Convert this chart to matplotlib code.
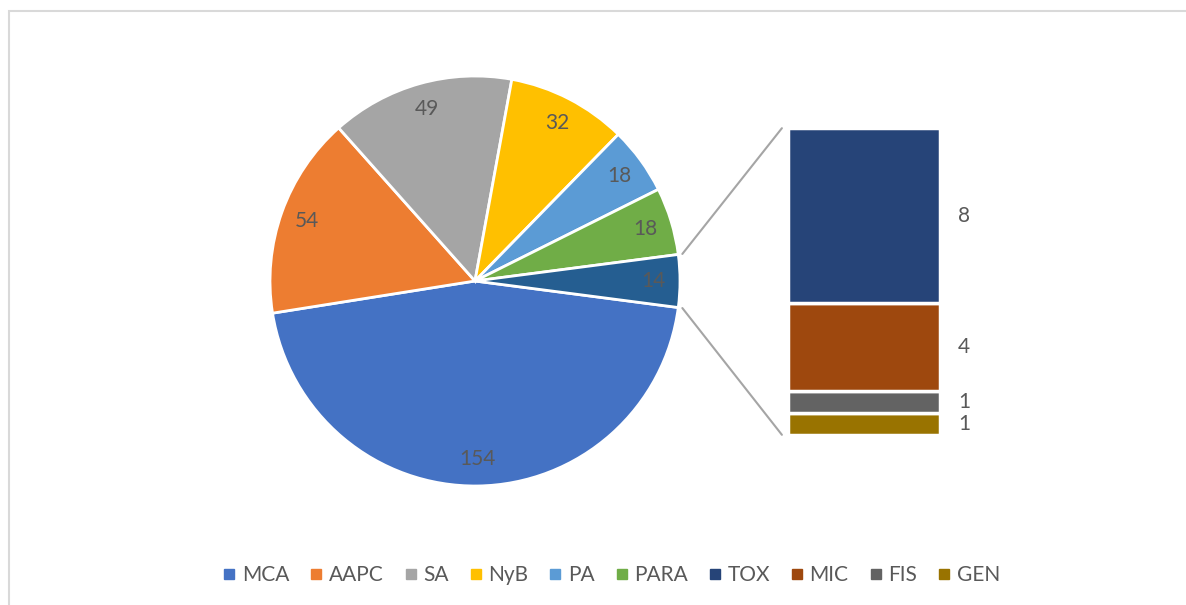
import numpy as np
import matplotlib
matplotlib.use('Agg')
import matplotlib.pyplot as plt
from matplotlib.patches import ConnectionPatch, Rectangle
from matplotlib.lines import Line2D

plt.rcParams['font.family'] = ['Lato', 'DejaVu Sans']

# Data
pie_labels = ['MCA', 'AAPC', 'SA', 'NyB', 'PA', 'PARA']
pie_values = [154, 54, 49, 32, 18, 18]
bar_labels = ['TOX', 'MIC', 'FIS', 'GEN']
bar_values = [8, 4, 1, 1]

pie_colors = ['#4472C4', '#ED7D31', '#A5A5A5', '#FFC000', '#5B9BD5', '#70AD47']
other_color = '#255E91'
bar_colors = ['#264478', '#9E480E', '#636363', '#997300']
text_color = '#595959'

other_value = sum(bar_values)
all_values = pie_values + [other_value]
total = sum(all_values)

fig = plt.figure(figsize=(11.86, 6.05), dpi=100)

# chart area border
fig.patches.append(Rectangle((9 / 1186, -0.02), 1.02, 1 - 11 / 605 + 0.02,
                             transform=fig.transFigure, fill=False,
                             edgecolor='#D9D9D9', linewidth=1.5))

# Pie
ax_pie = fig.add_axes([270 / 1186, (605 - 486) / 605, 410 / 1186, 410 / 605])
other_span = other_value / total * 360
start = -other_span / 2
wedges, _, autotexts = ax_pie.pie(
    all_values, colors=pie_colors + [other_color], startangle=start,
    counterclock=False, radius=1,
    autopct=lambda p: f'{p * total / 100:.0f}', pctdistance=0.87,
    wedgeprops=dict(edgecolor='white', linewidth=2),
    textprops=dict(color=text_color, fontsize=15))
ax_pie.set_xlim(-1, 1)
ax_pie.set_ylim(-1, 1)
ax_pie.set_aspect('equal')
ax_pie.axis('off')

# Bar of "other"
ax_bar = fig.add_axes([786 / 1186, (605 - 437) / 605, 156 / 1186, 311 / 605])
bottom = 0
stack = list(zip(bar_labels, bar_values, bar_colors))[::-1]
for name, val, col in stack:
    ax_bar.bar(0, val, bottom=bottom, width=1, color=col,
               edgecolor='white', linewidth=2.5)
    ax_bar.text(0.62, bottom + val / 2, str(val), ha='left', va='center',
                color=text_color, fontsize=15)
    bottom += val
ax_bar.set_xlim(-0.513, 0.513)
ax_bar.set_ylim(-0.1, other_value + 0.1)
ax_bar.axis('off')

# connector lines
ang = np.deg2rad(other_span / 2)
for sgn, yb in [(1, other_value), (-1, 0)]:
    con = ConnectionPatch(xyA=(1.02 * np.cos(ang), sgn * 1.02 * np.sin(ang)),
                          coordsA=ax_pie.transData,
                          xyB=(-0.54, yb), coordsB=ax_bar.transData,
                          color='#A5A5A5', linewidth=1.5)
    fig.add_artist(con)

# Legend
handles = [Line2D([], [], marker='s', linestyle='none', markersize=6.5,
                  color=c) for c in pie_colors + bar_colors]
leg = fig.legend(handles, pie_labels + bar_labels, loc='center',
                 bbox_to_anchor=(611 / 1186, 30 / 605), ncol=10,
                 frameon=False, fontsize=15, handlelength=0.7,
                 handletextpad=0.25, columnspacing=0.95)
for t in leg.get_texts():
    t.set_color(text_color)

fig.savefig('out.png', dpi=100)
